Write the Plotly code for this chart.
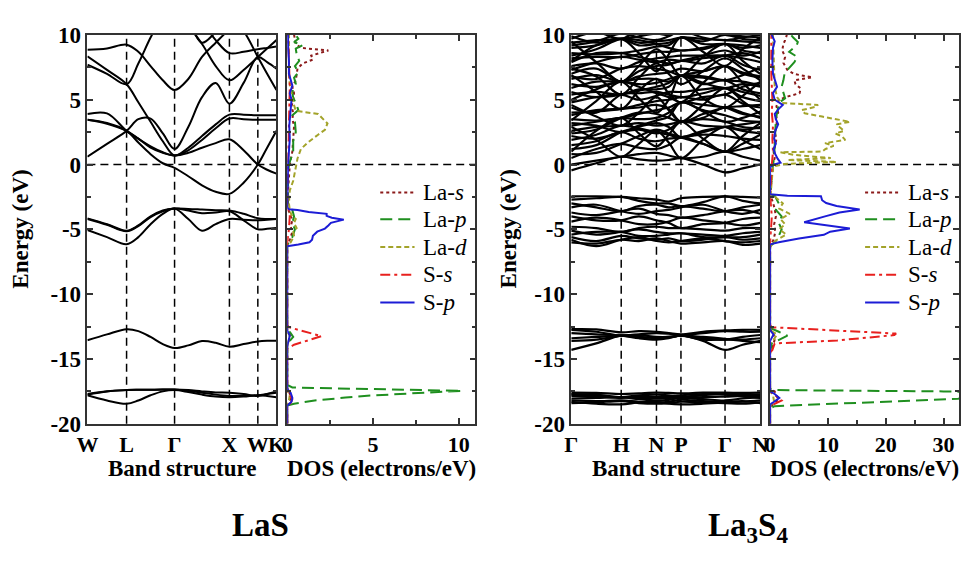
import plotly.graph_objects as go

FONT = "Liberation Serif"
FIG_W, FIG_H = 974, 561

# ---------------- LaS band structure (path W-L-Γ-X-W-K) ----------------
las_k = [0, 20, 40, 52, 64.5, 77, 89, 103, 117, 131, 145, 159.5, 174, 183.5, 193]
las_sym_k = [0, 40, 89, 145, 174, 193]
las_sym_labels = ["W", "L", "Γ", "X", "W", "K"]

# La 5p semicore bands
las_bands_la5p = [
    [-17.8, -18.2, -18.45, -18.2, -17.8, -17.5, -17.4, -17.55, -17.75, -17.9, -17.95, -17.9, -17.8, -17.85, -17.95],
    [-17.75, -17.5, -17.4, -17.38, -17.37, -17.36, -17.35, -17.45, -17.6, -17.75, -17.85, -17.85, -17.8, -17.7, -17.6],
    [-17.7, -17.48, -17.4, -17.38, -17.37, -17.36, -17.35, -17.4, -17.5, -17.58, -17.6, -17.7, -17.85, -17.7, -17.5],
]
# S 3s band
las_bands_s3s = [
    [-13.55, -13.1, -12.7, -12.85, -13.3, -13.85, -14.15, -13.95, -13.62, -13.75, -14.05, -13.85, -13.65, -13.6, -13.6],
]
# S 3p valence bands
las_bands_s3p = [
    [-4.15, -4.6, -5.1, -4.7, -4.0, -3.55, -3.4, -3.42, -3.47, -3.52, -3.55, -3.8, -4.15, -4.2, -4.2],
    [-4.2, -4.65, -5.15, -4.75, -4.05, -3.6, -3.4, -3.55, -3.75, -3.7, -3.6, -4.3, -5.0, -4.95, -4.9],
    [-5.05, -5.6, -6.15, -5.6, -4.6, -3.8, -3.4, -4.2, -5.1, -4.6, -4.2, -4.25, -4.3, -4.25, -4.2],
]
# La 5d / 6s conduction bands
las_bands_cond = [
    [0.6, 1.6, 2.6, 3.5, 3.55, 2.4, 1.2, 2.9, 5.2, 6.3, 4.7, 6.3, 8.3, 7.9, 7.4],
    [3.45, 3.2, 2.6, 1.7, 0.8, 0.1, -0.25, -0.9, -1.6, -2.1, -2.26, -1.4, 0.0, 1.3, 2.6],
    [3.45, 3.15, 2.6, 2.0, 1.3, 0.9, 0.7, 0.9, 1.3, 1.65, 1.95, 1.1, 0.0, -0.4, -0.7],
    [8.35, 7.3, 6.2, 4.8, 3.3, 1.8, 0.7, 1.3, 2.2, 3.1, 3.85, 3.85, 3.8, 3.8, 3.8],
    [3.9, 3.95, 2.6, 2.0, 1.4, 0.95, 0.7, 1.1, 1.9, 2.8, 3.55, 3.5, 3.45, 3.45, 3.45],
    [8.85, 8.95, 9.25, 8.7, 7.6, 6.5, 5.75, 6.6, 8.3, 9.4, 10.4, 11.0, 11.5, 11.5, 11.5],
    [12.0, 12.0, 12.0, 12.0, 12.0, 11.5, 11.0, 10.6, 9.3, 7.6, 6.5, 7.3, 8.3, 8.95, 9.6],
    [7.7, 7.0, 6.2, 7.8, 9.8, 11.5, 12.5, 13.0, 12.5, 12.0, 11.5, 10.3, 8.3, 7.0, 5.75],
    [12.0, 12.0, 12.0, 12.0, 12.0, 12.0, 12.0, 12.0, 11.0, 9.6, 8.6, 8.7, 8.9, 9.0, 9.1],
    [12.0, 12.0, 12.0, 12.0, 12.0, 12.0, 12.0, 11.0, 9.4, 10.2, 11.0, 12.0, 12.0, 12.0, 12.0],
]

# ---------------- La3S4 band structure (path Γ-H-N-P-Γ-N) ----------------
la3s4_k = [0, 25.5, 51, 69, 87, 99.5, 112, 134.5, 157, 175, 193]
la3s4_sym_k = [0, 51, 87, 112, 157, 193]
la3s4_sym_labels = ["Γ", "H", "N", "P", "Γ", "N"]

la3s4_bands_la5p = [
    [-17.6, -17.62, -17.7, -17.65, -17.6, -17.62, -17.65, -17.6, -17.6, -17.62, -17.6],
    [-17.7, -17.75, -17.95, -17.8, -17.75, -17.8, -17.9, -17.8, -17.7, -17.75, -17.72],
    [-17.85, -17.9, -17.95, -18.0, -18.05, -18.0, -17.95, -17.95, -17.9, -17.85, -17.85],
    [-18.05, -18.0, -17.95, -18.1, -18.2, -18.15, -18.0, -18.1, -18.2, -18.05, -17.95],
    [-18.2, -18.25, -18.2, -18.3, -18.35, -18.3, -18.15, -18.25, -18.3, -18.3, -18.2],
    [-18.4, -18.35, -18.25, -18.4, -18.45, -18.4, -18.3, -18.35, -18.4, -18.45, -18.35],
    [-17.75, -17.85, -18.0, -17.9, -17.95, -17.9, -17.8, -17.7, -17.75, -17.9, -18.0],
    [-18.3, -18.45, -18.5, -18.35, -18.3, -18.45, -18.5, -18.45, -18.35, -18.25, -18.4],
]
la3s4_bands_s3s = [
    [-12.7, -12.72, -12.95, -12.85, -12.9, -13.0, -13.1, -12.9, -12.8, -12.75, -12.75],
    [-12.75, -12.9, -13.2, -13.1, -13.0, -13.05, -13.15, -13.0, -12.85, -12.9, -12.9],
    [-13.0, -13.1, -13.2, -13.3, -13.35, -13.3, -13.2, -13.4, -13.5, -13.3, -13.15],
    [-13.4, -13.3, -13.2, -13.4, -13.5, -13.4, -13.2, -13.6, -14.3, -13.9, -13.6],
    [-14.3, -13.8, -13.2, -13.3, -13.4, -13.35, -13.2, -13.5, -13.5, -13.5, -13.4],
    [-13.6, -13.5, -13.2, -13.15, -13.3, -13.3, -13.2, -13.3, -13.45, -13.6, -13.7],
]
la3s4_bands_s3p = [
    [-2.45, -2.45, -2.5, -2.6, -2.7, -2.85, -2.6, -2.5, -2.45, -2.5, -2.55],
    [-2.7, -2.6, -2.5, -2.8, -3.0, -3.0, -3.2, -2.9, -2.45, -2.8, -3.0],
    [-3.0, -3.3, -3.6, -3.2, -3.1, -3.3, -3.2, -3.4, -3.6, -3.3, -3.1],
    [-3.3, -3.1, -3.6, -3.8, -3.6, -3.5, -3.3, -3.1, -3.6, -3.8, -3.5],
    [-3.7, -3.9, -3.6, -3.4, -3.8, -3.9, -4.1, -3.9, -3.6, -3.5, -3.8],
    [-4.0, -4.3, -4.3, -4.0, -4.3, -4.5, -4.9, -4.6, -4.5, -4.2, -4.1],
    [-4.4, -4.1, -4.3, -4.6, -4.6, -4.4, -4.1, -4.3, -4.5, -4.7, -4.5],
    [-4.8, -4.9, -5.2, -4.9, -4.8, -4.9, -4.9, -5.0, -5.1, -4.9, -4.9],
    [-5.1, -5.4, -5.2, -5.0, -5.2, -5.3, -5.3, -5.4, -5.5, -5.3, -5.2],
    [-5.4, -5.2, -5.2, -5.5, -5.5, -5.4, -5.3, -5.6, -5.6, -5.6, -5.4],
    [-5.6, -5.9, -5.5, -5.7, -5.8, -5.7, -5.9, -5.8, -5.6, -5.8, -5.7],
    [-5.8, -6.3, -5.8, -5.6, -5.9, -6.0, -5.9, -5.7, -5.9, -6.0, -5.9],
    [-6.0, -6.1, -5.8, -5.9, -5.7, -5.9, -6.1, -6.0, -5.9, -6.2, -6.1],
]
la3s4_bands_cond = [
    [-0.45, 0.1, 0.6, 0.4, 0.3, 0.35, 0.5, 0.0, -0.6, -0.3, 0.0],
    [0.0, 0.3, 0.6, 0.8, 0.9, 0.7, 0.5, 0.6, 1.0, 0.6, 0.3],
    [0.5, 1.2, 1.6, 1.3, 1.2, 1.5, 2.1, 1.6, 1.0, 1.2, 1.5],
    [1.5, 1.8, 2.5, 2.0, 1.8, 2.0, 2.1, 2.3, 2.2, 2.0, 1.9],
    [2.2, 2.0, 2.5, 2.7, 2.4, 2.7, 3.3, 3.0, 2.9, 2.6, 2.4],
    [2.6, 2.9, 3.0, 3.2, 3.0, 3.1, 3.3, 3.5, 3.3, 2.9, 2.8],
    [3.0, 3.3, 3.6, 3.5, 3.6, 4.0, 4.8, 4.2, 3.8, 3.4, 3.3],
    [3.5, 3.4, 3.6, 3.9, 4.2, 4.4, 4.8, 4.6, 4.4, 3.9, 3.7],
    [4.0, 4.1, 4.3, 4.6, 4.9, 5.0, 5.2, 5.0, 5.4, 4.7, 4.4],
    [4.8, 5.2, 5.4, 5.0, 5.3, 5.6, 5.6, 5.8, 5.9, 5.2, 4.9],
    [5.4, 5.6, 5.4, 5.8, 5.8, 6.0, 6.85, 6.2, 6.5, 5.8, 5.5],
    [6.2, 6.0, 6.4, 6.2, 6.3, 6.6, 6.85, 6.8, 6.5, 6.4, 6.1],
    [6.6, 6.9, 6.4, 6.8, 7.0, 7.1, 7.4, 7.2, 7.6, 7.0, 6.7],
    [7.0, 7.4, 6.4, 7.2, 7.6, 7.7, 8.0, 7.8, 8.4, 7.7, 7.3],
    [7.6, 7.8, 7.4, 7.9, 8.2, 8.3, 8.4, 8.4, 8.4, 8.2, 7.9],
    [8.2, 8.3, 8.3, 8.5, 8.7, 8.7, 8.8, 8.9, 9.3, 8.8, 8.6],
    [8.6, 8.5, 8.6, 8.8, 9.1, 9.2, 9.8, 9.3, 9.3, 9.2, 9.0],
    [9.0, 9.2, 9.7, 9.4, 9.5, 9.6, 9.8, 9.7, 9.6, 9.5, 9.4],
    [9.4, 9.6, 9.7, 9.9, 10.1, 10.0, 10.3, 10.2, 10.0, 9.9, 9.8],
    [9.7, 10.2, 9.7, 10.4, 10.6, 10.5, 10.7, 10.6, 10.5, 10.4, 10.3],
    [0.8, 0.9, 1.6, 2.2, 2.7, 2.4, 2.1, 1.6, 1.0, 1.6, 2.3],
    [1.9, 2.3, 3.0, 2.8, 2.5, 2.3, 2.1, 2.6, 2.9, 3.1, 3.3],
    [2.4, 2.7, 3.6, 4.0, 3.9, 3.6, 3.3, 3.6, 4.4, 4.0, 3.6],
    [3.2, 3.0, 2.5, 3.0, 3.4, 3.7, 4.8, 4.1, 3.3, 3.6, 4.1],
    [3.8, 4.2, 4.3, 4.4, 4.6, 4.3, 3.3, 3.9, 4.4, 4.5, 4.6],
    [4.4, 4.0, 5.4, 5.5, 5.6, 5.4, 5.2, 5.5, 5.9, 5.6, 5.3],
    [5.0, 5.8, 6.4, 6.0, 5.5, 5.2, 4.8, 5.2, 5.4, 6.0, 6.3],
    [5.9, 6.4, 6.4, 6.6, 6.6, 6.4, 6.85, 7.2, 7.6, 7.1, 6.8],
    [6.8, 6.6, 7.4, 7.6, 7.4, 7.2, 6.85, 6.7, 6.5, 6.9, 7.5],
    [7.3, 7.9, 8.3, 8.1, 7.9, 8.1, 8.0, 8.2, 8.4, 8.6, 8.2],
    [7.9, 8.6, 8.6, 8.3, 8.0, 7.8, 8.0, 8.4, 8.8, 8.4, 8.7],
    [8.4, 8.9, 9.7, 9.6, 9.3, 9.0, 8.8, 9.0, 9.3, 9.0, 9.2],
    [9.2, 9.5, 10.1, 9.8, 9.6, 9.9, 10.3, 9.8, 9.6, 9.8, 10.0],
    [9.9, 9.4, 9.7, 9.2, 9.3, 9.4, 9.8, 9.5, 10.0, 9.7, 9.6],
    [1.2, 1.5, 2.5, 2.9, 3.2, 2.9, 2.1, 2.5, 2.9, 2.7, 2.9],
    [5.6, 5.2, 5.4, 5.7, 6.0, 6.3, 6.85, 6.3, 5.9, 6.2, 6.0],
    # strongly dispersive branches crossing the manifold
    [1.0, 2.6, 3.6, 2.4, 1.4, 2.3, 3.3, 2.0, 1.0, 2.2, 3.2],
    [3.4, 4.9, 6.4, 5.1, 4.0, 5.0, 6.85, 5.1, 4.4, 5.3, 6.4],
    [6.9, 5.6, 4.3, 5.7, 6.6, 5.5, 4.8, 6.3, 7.6, 6.3, 5.0],
    [9.5, 7.9, 6.4, 7.6, 8.9, 8.0, 6.85, 8.3, 9.3, 8.0, 7.0],
    [2.9, 1.9, 0.6, 1.6, 2.6, 1.7, 0.5, 1.9, 2.9, 1.9, 1.2],
    [8.0, 9.2, 9.7, 8.6, 7.2, 8.5, 9.8, 8.7, 7.6, 8.9, 9.8],
    [4.6, 3.7, 3.0, 4.0, 5.2, 4.2, 3.3, 4.6, 5.9, 4.9, 3.9],
    [7.4, 6.8, 5.4, 6.7, 7.8, 7.0, 6.2, 7.2, 8.2, 7.4, 6.5],
]

# ---------------- LaS partial DOS (electrons/eV) ----------------
las_la_s_E = [-20, -18.6, -18.3, -17.9, -17.5, -17.2, -14, -13.6, -13.2, -12.8, -6.2, -5.8, -5.2, -4.8, -4.3,
              -3.6, -3.3, -2, -1, 0, 1, 2, 3, 3.5, 4, 4.5, 5, 5.5, 6, 6.5, 7, 7.4, 7.8, 8.1, 8.4, 8.6, 8.8,
              8.9, 9.0, 9.3, 9.6, 10]
las_la_s_dos = [0, 0, 0.15, 0.2, 0.1, 0, 0, 0.1, 0.2, 0, 0, 0.15, 0.3, 0.2, 0.3,
                0.1, 0, 0.05, 0.1, 0.15, 0.3, 0.35, 0.4, 0.3, 0.35, 0.25, 0.35, 0.4, 0.3, 0.5, 0.55, 0.6, 0.9,
                1.5, 1.4, 1.9, 2.4, 1.6, 0.8, 0.5, 0.45, 0.4]

las_la_p_E = [-20, -18.6, -18.45, -18.2, -17.98, -17.93, -17.85, -17.6, -17.46, -17.35, -17.2, -17.0, -14,
              -13.6, -13.3, -13.0, -12.7, -6.2, -5.6, -5.0, -4.5, -4.0, -3.5, -3.0, -1, 0, 1, 1.8, 2.5, 3.3,
              3.8, 4.2, 4.6, 5.15, 5.6, 6.25, 6.7, 7.1, 7.6, 8.0, 8.5, 8.95, 9.2, 9.45, 9.7, 10]
las_la_p_dos = [0, 0, 0.4, 1.6, 3.4, 3.7, 4.5, 8.0, 10.2, 6.0, 0.3, 0, 0,
                0.15, 0.35, 0.2, 0, 0, 0.3, 0.45, 0.3, 0.4, 0.3, 0.05, 0.05, 0.1, 0.35, 0.35, 0.5, 0.45,
                0.3, 0.65, 0.55, 0.35, 0.3, 0.5, 0.4, 0.65, 0.45, 0.7, 0.55, 0.5, 0.9, 0.4, 0.65, 0.5]

las_la_d_E = [-20, -18.5, -18.2, -17.8, -17.4, -14, -13.5, -13.2, -12.9, -6.3, -6.0, -5.5, -5.2, -4.9, -4.5,
              -4.2, -3.9, -3.5, -3.0, -2.5, -2.0, -1.25, -0.27, 0.47, 1.2, 1.7, 2.3, 2.68, 3.17, 3.6, 3.9,
              4.15, 4.5, 5.0, 5.5, 6.2, 7, 8, 9, 10]
las_la_d_dos = [0, 0, 0.1, 0.15, 0, 0, 0.1, 0.15, 0, 0, 0.2, 0.4, 0.35, 0.55, 0.4,
                0.5, 0.25, 0.15, 0.1, 0.12, 0.15, 0.35, 0.5, 0.6, 0.8, 1.2, 1.8, 2.2, 2.35, 2.0, 1.8,
                0.5, 0.4, 0.3, 0.25, 0.15, 0.1, 0.12, 0.1, 0.1]

las_s_s_E = [-20, -18.6, -18.4, -18.1, -17.8, -17.5, -14.2, -13.9, -13.24, -12.55, -12.4, -6, -5, -4, -3,
             0, 3, 6, 10]
las_s_s_dos = [0, 0, 0.2, 0.3, 0.15, 0, 0, 0.4, 2.0, 0.1, 0, 0, 0.1, 0.15, 0,
               0.05, 0.1, 0.15, 0.05]

las_s_p_E = [-20, -18.6, -18.3, -18.0, -17.6, -17.3, -14, -13.5, -13.2, -12.8, -6.3, -6.17, -6.0, -5.8,
             -5.5, -5.18, -4.94, -4.7, -4.5, -4.25, -4.1, -3.96, -3.8, -3.66, -3.5, -3.45, -3.3, 0, 1, 2,
             3, 4, 5, 5.5, 6.1, 7, 8, 9, 10]
las_s_p_dos = [0, 0, 0.25, 0.3, 0.2, 0, 0, 0.1, 0.15, 0, 0, 0.65, 1.3, 1.45,
               1.5, 1.75, 2.2, 2.4, 2.55, 3.3, 2.6, 2.3, 2.3, 1.25, 0.6, 0.1, 0, 0.05, 0.1, 0.15,
               0.12, 0.2, 0.25, 0.15, 0.3, 0.1, 0.1, 0.05, 0.05]

# ---------------- La3S4 partial DOS (electrons/eV) ----------------
la3s4_la_s_E = [-20, -18.7, -18.4, -18.1, -17.8, -17.5, -17.3, -14.4, -14.0, -13.5, -13.1, -12.7, -6.3,
                -5.8, -5.2, -4.6, -4.0, -3.4, -2.8, -2.3, -1, 0, 0.5, 1, 1.5, 2, 2.5, 3, 3.5, 4, 4.5,
                5.0, 5.26, 5.5, 5.87, 6.2, 6.5, 6.73, 6.98, 7.3, 7.84, 8.3, 8.8, 9.3, 9.6, 9.93, 10]
la3s4_la_s_dos = [0, 0, 0.8, 1.5, 1.0, 0.8, 0, 0, 0.5, 0.8, 0.6, 0, 0,
                  0.6, 0.9, 0.7, 1.0, 0.8, 0.4, 0, 0.3, 0.5, 0.8, 0.6, 0.9, 1.1, 0.8, 1.2, 1.0, 1.4, 1.1,
                  1.5, 3.1, 5.1, 5.3, 4.4, 4.2, 7.3, 4.2, 3.0, 2.3, 2.6, 2.1, 2.3, 2.6, 2.8, 2.9]

la3s4_la_p_E = [-20, -18.8, -18.64, -18.45, -18.2, -18.17, -18.12, -18.07, -17.9, -17.55, -17.5, -17.45,
                -17.4, -17.3, -14.5, -13.8, -13.2, -12.9, -12.6, -6.3, -6.0, -5.5, -5.0, -4.5, -4.0, -3.5,
                -3.0, -2.4, -2.3, 0, 0.5, 1.5, 2.5, 3.5, 4.2, 4.8, 5.1, 5.4, 6.0, 6.5, 7.0, 7.4, 7.9, 8.3,
                8.7, 9.2, 9.45, 9.8, 10]
la3s4_la_p_dos = [0, 0, 0.8, 11.5, 26.3, 27.0, 28.5, 32.5, 36, 34, 30, 15,
                  0.8, 0, 0, 0.3, 3.0, 1.5, 0, 0, 0.8, 1.5, 2.0, 1.5, 2.0, 1.0,
                  1.5, 0.8, 0, 0.5, 0.7, 0.8, 0.9, 1.0, 1.3, 1.6, 2.6, 2.4, 2.0, 2.3, 2.5, 3.2, 4.2, 4.7,
                  3.3, 4.6, 4.8, 4.0, 3.6]

la3s4_la_d_E = [-20, -18.6, -18.3, -17.8, -17.5, -13.8, -13.4, -13.1, -12.8, -6.4, -6.2, -5.8, -5.4,
                -5.0, -4.6, -4.2, -3.8, -3.4, -3.0, -2.5, -2.3, -1, -0.15, 0.05, 0.2, 0.35, 0.5, 0.75,
                0.95, 1.0, 1.2, 1.45, 1.65, 1.9, 2.15, 2.4, 2.6, 2.9, 3.1, 3.3, 3.5, 3.7, 3.95, 4.2,
                4.45, 4.6, 4.75, 5.2, 6, 8, 10]
la3s4_la_d_dos = [0, 0, 0.7, 0.5, 0, 0, 0.8, 1.2, 0, 0, 0.2, 1.2, 2.8,
                  1.6, 2.6, 1.8, 3.4, 1.6, 2.2, 0.9, 0.1, 0.3, 0.5, 2.5, 11.5, 3.0, 10.5, 4.0,
                  1.8, 9.0, 9.6, 11.0, 9.5, 13.0, 12.5, 11.3, 12.8, 12.0, 11.5, 13.8, 11.0, 9.0, 6.0, 5.5,
                  7.8, 8.3, 2.0, 1.2, 0.8, 0.6, 0.5]

la3s4_s_s_E = [-20, -18.7, -18.5, -18.2, -17.9, -17.6, -17.4, -14.5, -14.3, -13.8, -13.57, -13.16,
               -13.04, -12.55, -12.4, -6, -4, -2.4, 0, 1, 2, 3, 4, 5, 7, 10]
la3s4_s_s_dos = [0, 0, 0.6, 2.0, 1.2, 0.3, 0, 0, 0.4, 0.8, 11.6, 21.5,
                 21.8, 0.3, 0, 0, 0.3, 0, 0.3, 0.5, 0.4, 0.5, 0.3, 0.4, 0.2, 0.2]

la3s4_s_p_E = [-20, -18.5, -18.3, -18.0, -17.7, -17.5, -13.6, -13.3, -13.1, -12.8, -6.16, -6.0, -5.7,
               -5.42, -5.18, -4.94, -4.7, -4.45, -4.0, -3.7, -3.46, -3.2, -2.97, -2.75, -2.45, -2.4, -2.3,
               -0.2, 0, 0.15, 0.45, 0.8, 1.2, 1.6, 2.0, 2.6, 3.1, 3.5, 3.9, 4.3, 4.6, 5.0, 5.5, 6.0,
               7.0, 8.0, 9.0, 9.5, 10]
la3s4_s_p_dos = [0, 0, 0.7, 1.6, 0.8, 0, 0, 0.3, 0.6, 0, 0, 1.5, 5.0,
                 9.3, 10.4, 13.8, 9.9, 5.9, 9.5, 12.0, 15.5, 11.5, 9.7, 9.0, 8.8, 3.0, 0,
                 0, 0.6, 1.8, 1.3, 0.9, 0.6, 1.0, 0.7, 0.9, 1.4, 1.0, 0.8, 1.5, 2.2, 0.8, 0.5, 1.2,
                 0.5, 0.4, 0.5, 0.8, 0.3]

# Orbital-projected curve styles
pdos_labels = ["La-<i>s</i>", "La-<i>p</i>", "La-<i>d</i>", "S-<i>s</i>", "S-<i>p</i>"]
pdos_colors = ["#8b1a1a", "#1f8f1f", "#a3a32a", "#e8201e", "#1c1cd6"]
pdos_dashes = ["dot", "12px,6px", "5px,3px", "10px,4px,3px,4px", "solid"]

las_pdos = [(las_la_s_E, las_la_s_dos), (las_la_p_E, las_la_p_dos), (las_la_d_E, las_la_d_dos),
            (las_s_s_E, las_s_s_dos), (las_s_p_E, las_s_p_dos)]
la3s4_pdos = [(la3s4_la_s_E, la3s4_la_s_dos), (la3s4_la_p_E, la3s4_la_p_dos),
              (la3s4_la_d_E, la3s4_la_d_dos), (la3s4_s_s_E, la3s4_s_s_dos),
              (la3s4_s_p_E, la3s4_s_p_dos)]

energy_ticks = [-20, -15, -10, -5, 0, 5, 10]
energy_ticktext = ["-20", "-15", "-10", "-5", "0", "5", "10"]

# ---------------- panel geometry (pixels) ----------------
PLOT_TOP, PLOT_BOTTOM = 24, 431
panels_px = {"x": (78, 271), "x2": (282, 474), "x3": (572, 765), "x4": (775, 968)}


def xdom(name):
    a, b = panels_px[name]
    return [a / FIG_W, b / FIG_W]


def px_x(v):
    return v / FIG_W


def px_y(v):
    return 1 - v / FIG_H


ydom = [px_y(PLOT_BOTTOM), px_y(PLOT_TOP)]

fig = go.Figure()


def add_bands(k, groups, xa, ya, width):
    for group in groups:
        for band in group:
            fig.add_trace(go.Scatter(
                x=k, y=band, mode="lines", xaxis=xa, yaxis=ya, showlegend=False,
                hoverinfo="skip",
                line=dict(color="black", width=width, shape="spline", smoothing=1.0)))


add_bands(las_k, [las_bands_la5p, las_bands_s3s, las_bands_s3p, las_bands_cond], "x", "y", 2)
add_bands(la3s4_k, [la3s4_bands_la5p, la3s4_bands_s3s, la3s4_bands_s3p, la3s4_bands_cond],
          "x3", "y3", 2.2)


def add_pdos(curves, xa, ya):
    for (E, dos), name, color, dash in zip(curves, pdos_labels, pdos_colors, pdos_dashes):
        fig.add_trace(go.Scatter(
            x=dos, y=E, mode="lines", xaxis=xa, yaxis=ya, name=name, showlegend=False,
            hoverinfo="skip", line=dict(color=color, width=2, dash=dash)))


add_pdos(las_pdos, "x2", "y2")
add_pdos(la3s4_pdos, "x4", "y4")

FRAME = dict(showline=True, linecolor="#333333", linewidth=1.5, mirror="ticks",
             showgrid=False, zeroline=False)
TICKFONT = dict(family=FONT, size=23, color="black", weight="bold")

band_x = dict(FRAME, ticks="", tickfont=dict(TICKFONT, size=22), tickmode="array", tickangle=0)
energy_y = dict(FRAME, range=[-20, 10], ticks="inside", ticklen=6, tickwidth=1.5,
                tickcolor="#333333", tickmode="array", tickvals=energy_ticks,
                minor=dict(dtick=2.5, tick0=0, ticks="inside", ticklen=4, tickwidth=1.5,
                           tickcolor="#333333"),
                tickfont=TICKFONT, domain=ydom)
dos_x = dict(FRAME, ticks="inside", ticklen=6, tickwidth=1.5, tickcolor="#333333",
             tickfont=dict(TICKFONT, size=22), tickangle=0)

fig.update_layout(
    width=FIG_W, height=FIG_H, margin=dict(l=0, r=0, t=0, b=0),
    paper_bgcolor="white", plot_bgcolor="white", showlegend=False,
    xaxis=dict(band_x, domain=xdom("x"), range=[0, 193], anchor="y",
               tickvals=las_sym_k, ticktext=las_sym_labels),
    yaxis=dict(energy_y, anchor="x", ticktext=energy_ticktext),
    xaxis2=dict(dos_x, domain=xdom("x2"), range=[0, 10.97], anchor="y2",
                tickmode="array", tickvals=[0, 5, 10], ticktext=["0", "5", "10"],
                minor=dict(dtick=2.5, tick0=0, ticks="inside", ticklen=4, tickwidth=1.5,
                           tickcolor="#333333")),
    yaxis2=dict(energy_y, anchor="x2", showticklabels=False),
    xaxis3=dict(band_x, domain=xdom("x3"), range=[0, 193], anchor="y3",
                tickvals=la3s4_sym_k, ticktext=la3s4_sym_labels),
    yaxis3=dict(energy_y, anchor="x3", ticktext=energy_ticktext),
    xaxis4=dict(dos_x, domain=xdom("x4"), range=[0, 32.7], anchor="y4",
                tickmode="array", tickvals=[0, 10, 20, 30], ticktext=["0", "10", "20", "30"],
                minor=dict(dtick=5, tick0=0, ticks="inside", ticklen=4, tickwidth=1.5,
                           tickcolor="#333333")),
    yaxis4=dict(energy_y, anchor="x4", showticklabels=False),
)

# Dashed guides: high-symmetry points and the Fermi level
DASH = dict(color="black", width=1.5, dash="8px,5px")
shapes = []
for xa, ya, sym in (("x", "y", las_sym_k), ("x3", "y3", la3s4_sym_k)):
    for kv in sym[1:-1]:
        shapes.append(dict(type="line", xref=xa, yref=f"{ya} domain", x0=kv, x1=kv, y0=0, y1=1,
                           line=DASH, layer="below"))
for xa, ya in (("x", "y"), ("x2", "y2"), ("x3", "y3"), ("x4", "y4")):
    shapes.append(dict(type="line", xref=f"{xa} domain", yref=ya, x0=0, x1=1, y0=0, y1=0,
                       line=DASH, layer="below"))

# Legend keys for the projected DOS (one set per DOS panel)
LEGEND_FONT = dict(family=FONT, size=23, color="black")
ann = []
legend_rows = [189, 217, 246, 275, 304]
for x_line in (377, 872):
    for row, name, color, dash in zip(legend_rows, pdos_labels, pdos_colors, pdos_dashes):
        shapes.append(dict(type="line", xref="paper", yref="paper",
                           x0=px_x(x_line), x1=px_x(x_line + 35), y0=px_y(row), y1=px_y(row),
                           line=dict(color=color, width=2, dash=dash)))
        ann.append(dict(text=name, x=px_x(x_line + 42), y=px_y(row), xref="paper", yref="paper",
                        showarrow=False, xanchor="left", yanchor="middle", font=LEGEND_FONT))
fig.update_layout(shapes=shapes)

# Axis titles and compound names
TITLE_FONT = dict(family=FONT, size=23, color="black", weight="bold")
for name, label in (("x", "Band structure"), ("x2", "DOS (electrons/eV)"),
                    ("x3", "Band structure"), ("x4", "DOS (electrons/eV)")):
    a, b = panels_px[name]
    ann.append(dict(text=label, x=px_x((a + b) / 2), y=px_y(478), xref="paper", yref="paper",
                    showarrow=False, xanchor="center", yanchor="middle", font=TITLE_FONT))
for xc in (10, 508):
    ann.append(dict(text="Energy (eV)", x=px_x(xc), y=px_y(227), xref="paper", yref="paper",
                    showarrow=False, textangle=-90, xanchor="center", yanchor="middle",
                    font=TITLE_FONT))
NAME_FONT = dict(family=FONT, size=33, color="black", weight="bold")
ann.append(dict(text="LaS", x=px_x(255), y=px_y(537), xref="paper", yref="paper",
                showarrow=False, xanchor="center", yanchor="middle", font=NAME_FONT))
ann.append(dict(text="La<sub>3</sub>S<sub>4</sub>", x=px_x(752), y=px_y(540), xref="paper",
                yref="paper", showarrow=False, xanchor="center", yanchor="middle", font=NAME_FONT))
fig.update_layout(annotations=ann)

fig.write_html("out.html")
